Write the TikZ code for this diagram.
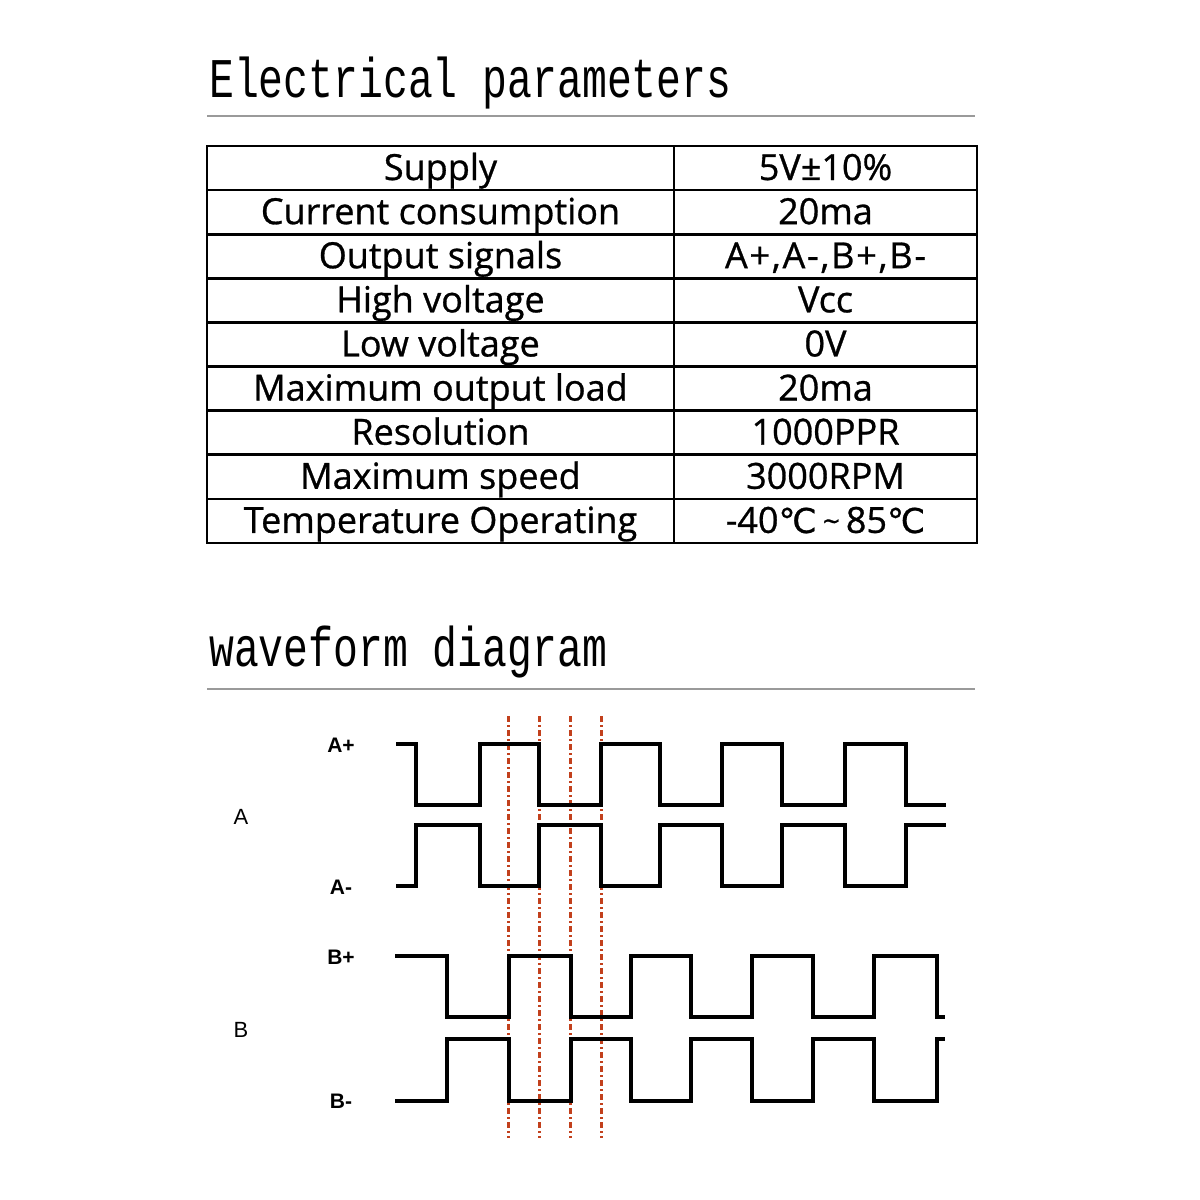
\documentclass[tikz,border=0pt]{standalone}
\usepackage{fontspec}
\setmainfont{Open Sans}
\newfontfamily\titlefont[FakeStretch=0.74]{Liberation Mono}
\newfontfamily\cellfont[FakeBold=0.8]{Open Sans}
\newfontfamily\spacedfont[FakeBold=0.8,LetterSpace=5]{Open Sans}
\newfontfamily\symfont[FakeBold=0.8]{DejaVu Sans}
\newfontfamily\labfont{Liberation Sans}
\definecolor{rulegray}{HTML}{9A9A9A}
\definecolor{markred}{HTML}{C2401C}
\tikzset{
  titletext/.style={anchor=base west, inner sep=0pt, font=\titlefont\fontsize{56}{60}\selectfont},
  titlerule/.style={draw=rulegray, line width=2.8pt},
  grid/.style={draw=black, line width=2.6pt},
  celltext/.style={anchor=base, inner sep=0pt, font=\cellfont\fontsize{36}{40}\selectfont},
  wave/.style={draw=black, line width=3.2pt, line join=miter},
  siglabel/.style={inner sep=0pt, font=\labfont\bfseries\fontsize{21}{24}\selectfont},
  grplabel/.style={inner sep=0pt, font=\labfont\fontsize{22}{24}\selectfont},
  marker/.style={draw=markred, line width=3pt, dash pattern=on 6pt off 3pt on 2pt off 3pt}
}
\begin{document}
\begin{tikzpicture}[x=1pt,y=-1pt]
\useasboundingbox[fill=white] (0,0) rectangle (1200,1200);
% titles
\node[titletext] (t1) at (209,97) {Electrical parameters};
\draw[titlerule] (207,116) -- (975,116);
\node[titletext] (t2) at (209,666) {waveform diagram};
\draw[titlerule] (207,689) -- (975,689);
% table grid
\draw[grid] (207,146) rectangle (977,543);
\draw[grid] (674,146) -- (674,543);
\foreach \i in {1,...,8} {
  \draw[grid] (207,{146+44.11*\i}) -- (977,{146+44.11*\i});
}
% table text
\foreach \i/\l/\r in {0/Supply/5V±10\%, 1/Current consumption/20ma, 3/High voltage/Vcc, 4/Low voltage/0V, 5/Maximum output load/20ma, 6/Resolution/1000PPR, 7/Maximum speed/3000RPM} {
  \node[celltext] (l\i) at (440.5,{146+44.11*\i+34}) {\l};
  \node[celltext] (r\i) at (825.5,{146+44.11*\i+34}) {\r};
}
\node[celltext] (l2) at (440.5,{146+44.11*2+34}) {Output signals};
\node[celltext] (r2) at (825.5,{146+44.11*2+34}) {\spacedfont\fontsize{36}{40}\selectfont A+,A-,B+,B-};
\node[celltext] (l8) at (440.5,{146+44.11*8+34}) {Temperature Operating};
\node[celltext] (r8) at (825.5,{146+44.11*8+34}) {-40{\symfont\fontsize{34}{38}\selectfont ℃}\,{\fontsize{30}{34}\selectfont\raisebox{1pt}{\~{}}}\,85{\symfont\fontsize{34}{38}\selectfont ℃}};
% labels
\node[siglabel] (ap) at (341,745) {A+};
\node[siglabel] (am) at (341,887) {A-};
\node[siglabel] (bp) at (341,957) {B+};
\node[siglabel] (bm) at (341,1101) {B-};
\node[grplabel] (ga) at (241,817) {A};
\node[grplabel] (gb) at (241,1030) {B};
% marker lines
\foreach \x in {508,539,570,601} {
  \draw[marker] (\x,716) -- (\x,1138);
}
% waveforms
\draw[wave] (396,744) -- (416,744) -- (416,805) -- (480,805) -- (480,744) -- (539,744) -- (539,805) -- (601,805) -- (601,744) -- (660,744) -- (660,805) -- (722,805) -- (722,744) -- (782,744) -- (782,805) -- (845,805) -- (845,744) -- (906,744) -- (906,805) -- (946,805);
\draw[wave] (396,886) -- (416,886) -- (416,825) -- (480,825) -- (480,886) -- (539,886) -- (539,825) -- (601,825) -- (601,886) -- (660,886) -- (660,825) -- (722,825) -- (722,886) -- (782,886) -- (782,825) -- (845,825) -- (845,886) -- (906,886) -- (906,825) -- (946,825);
\draw[wave] (395,956) -- (447,956) -- (447,1017) -- (509,1017) -- (509,956) -- (571,956) -- (571,1017) -- (631,1017) -- (631,956) -- (691,956) -- (691,1017) -- (752,1017) -- (752,956) -- (813,956) -- (813,1017) -- (874,1017) -- (874,956) -- (937,956) -- (937,1017) -- (945,1017);
\draw[wave] (395,1101) -- (447,1101) -- (447,1039) -- (509,1039) -- (509,1101) -- (571,1101) -- (571,1039) -- (631,1039) -- (631,1101) -- (691,1101) -- (691,1039) -- (752,1039) -- (752,1101) -- (813,1101) -- (813,1039) -- (874,1039) -- (874,1101) -- (937,1101) -- (937,1039) -- (945,1039);
\end{tikzpicture}
\end{document}
